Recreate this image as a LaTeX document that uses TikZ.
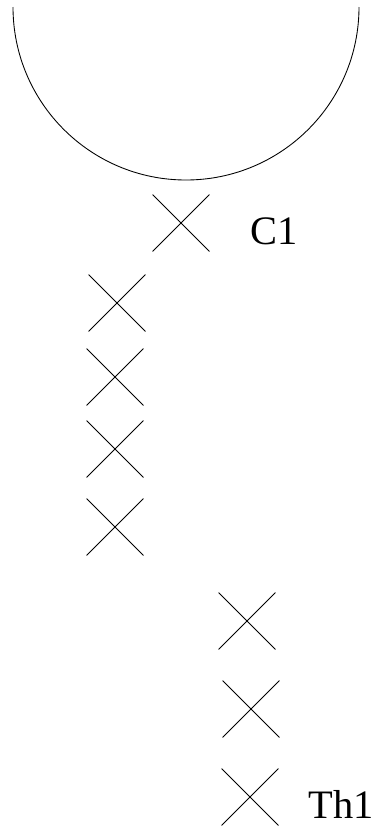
\documentclass[tikz,border=0pt]{standalone}
\usepackage{fontspec}
\setmainfont{Liberation Serif}
\usetikzlibrary{shapes.misc}
\tikzset{
  pole/.style={draw, cross out, inner sep=0pt, minimum size=1.12cm, line width=0.5pt},
  lbl/.style={font=\fontsize{23}{27}\selectfont, inner sep=0pt}
}
\begin{document}
\begin{tikzpicture}
\useasboundingbox (0,0) rectangle (7.58,-16.56);
% semicircle
\draw[line width=0.5pt] (0.26,-0.14) arc (180:360:3.46);
% crosses
\node[pole] (c1) at (3.62,-4.46) {};
\node[pole] (x1) at (2.34,-6.06) {};
\node[pole] (x2) at (2.30,-7.54) {};
\node[pole] (x3) at (2.30,-8.98) {};
\node[pole] (x4) at (2.30,-10.54) {};
\node[pole] (y1) at (4.94,-12.42) {};
\node[pole] (y2) at (5.02,-14.18) {};
\node[pole] (th1) at (5.00,-15.94) {};
% labels
\node[lbl] (c1lbl) at (5.49,-4.62) {C1};
\node[lbl] (th1lbl) at (6.82,-16.08) {Th1};
\end{tikzpicture}
\end{document}
